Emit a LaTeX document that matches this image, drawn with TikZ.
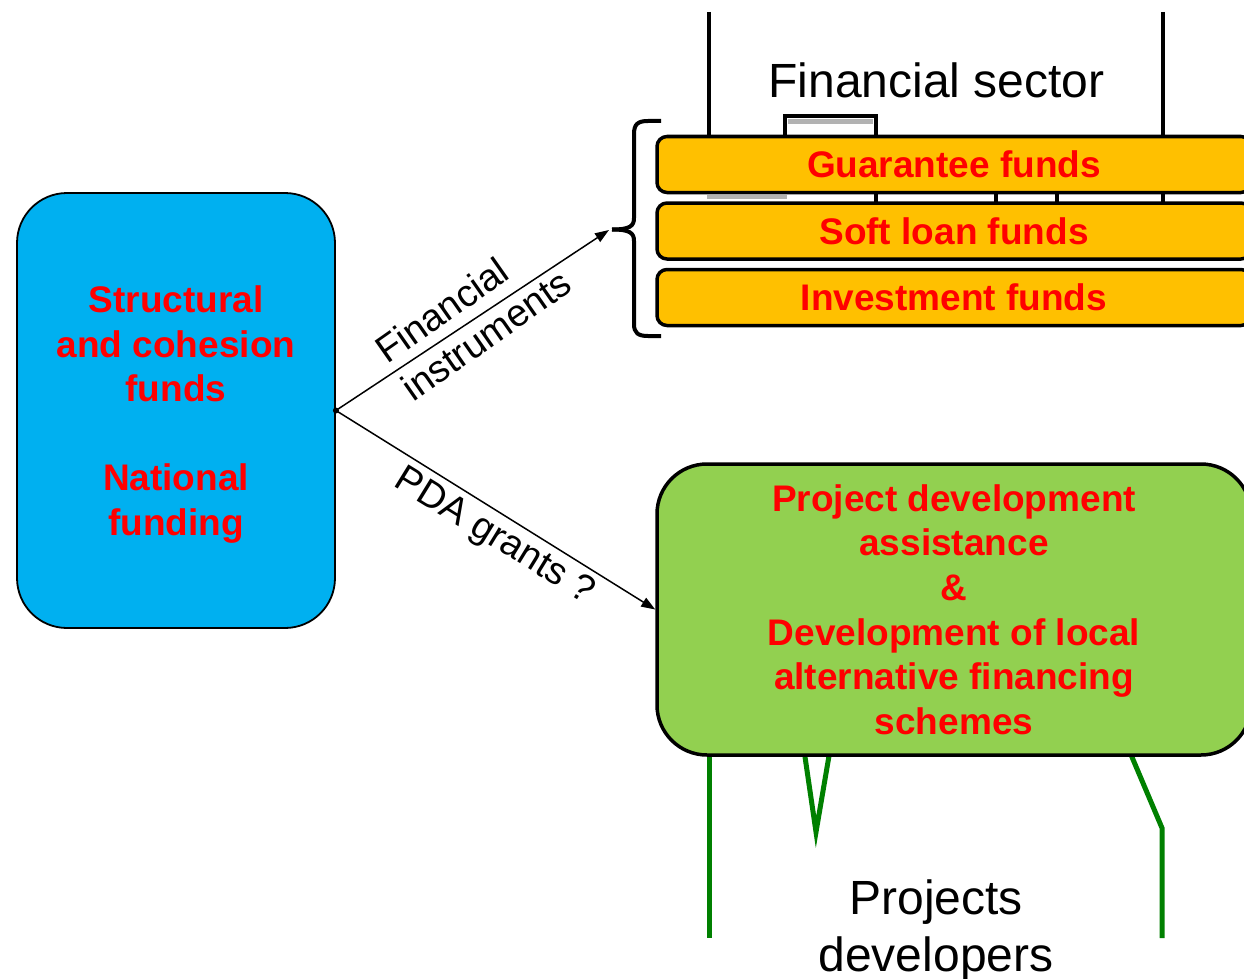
\documentclass[tikz,border=0pt]{standalone}
\usepackage{fontspec}
\setmainfont{Liberation Sans}
\usetikzlibrary{arrows.meta}
\definecolor{blueF}{HTML}{00B0F0}
\definecolor{orangeF}{HTML}{FFC000}
\definecolor{greenF}{HTML}{92D050}
\definecolor{redT}{HTML}{FF0000}
\definecolor{darkG}{HTML}{008000}
\begin{document}
\begin{tikzpicture}[x=1pt,y=-1pt,
  redtxt/.style={text=redT, font=\fontsize{37}{44.5}\selectfont\bfseries, align=center},
  srcbox/.style={draw, line width=1.8pt, fill=blueF, rounded corners=50pt, minimum width=318pt, minimum height=435pt, inner sep=0pt},
  fundbox/.style={redtxt, draw, line width=3.5pt, fill=orangeF, rounded corners=10pt, minimum width=594pt, minimum height=56pt, inner sep=0pt},
  pdabox/.style={redtxt, font=\fontsize{37}{44.6}\selectfont\bfseries, draw, line width=3.5pt, fill=greenF, rounded corners=50pt, minimum width=594pt, minimum height=291pt, inner sep=0pt},
  lbl/.style={font=\fontsize{38}{46}\selectfont, inner sep=0pt},
  ttl/.style={font=\fontsize{48}{57}\selectfont, inner sep=0pt},
  glink/.style={draw=darkG, line width=5pt},
  bline/.style={line width=4pt},
  conn/.style={line width=1.5pt, -{Triangle[length=14pt,width=10pt]}}
]
\useasboundingbox (0,0) rectangle (1244,979);
\clip (0,0) rectangle (1244,979);

% financial sector background
\draw[bline] (709,12) -- (709,136);
\draw[bline] (1163,12) -- (1163,136);
\draw[line width=3.5pt] (785,137) -- (785,116) -- (876,116) -- (876,137);
\draw[gray!60, line width=5pt] (788,121.5) -- (873,121.5);
\foreach \xx in {876,996,1057,1163} \draw[line width=4.5pt] (\xx,191) -- (\xx,204);
\draw[gray!60, line width=4pt] (707,197) -- (787,197);

\node[ttl, anchor=base] (fs) at (936.5,98) {Financial sector};

% project developers links
\draw[glink] (709,750) -- (709,938);
\draw[glink] (804,750) -- (816,832) -- (830,750);
\draw[glink] (1129,750) -- (1162,828) -- (1162,938);
\node[ttl, align=center] (pdv) at (936,931) {Projects\\developers};

% boxes
\node[srcbox] (src) at (176,410.5) {};
\node[redtxt] (srct) at (176,414.5) {Structural\\and cohesion\\funds\\[44.5pt]National\\funding};
\node[fundbox] (g) at (954,164.5) {Guarantee funds};
\node[fundbox] (s) at (954,231) {Soft loan funds};
\node[fundbox] (i) at (954,297.5) {Investment funds};
\node[pdabox] (pda) at (954,609.5) {Project development\\assistance\\\&\\Development of local\\alternative financing\\schemes};

% brace
\coordinate (bt) at (609,230);
\draw[line width=4pt] (661,121) -- (648,121) .. controls (638,121) and (634,124) .. (634,134) -- (634,218) .. controls (634,226) and (630,229.5) .. (612,229.5);
\draw[line width=4pt] (612,229.5) .. controls (630,229.5) and (634,233) .. (634,241) -- (634,324) .. controls (634,333) and (638,336) .. (648,336) -- (661,336);

% connectors
\draw[conn] (src.east) -- (bt);
\draw[conn] (src.east) -- (pda.west);
\fill (src.east) circle (3pt);

\node[lbl, rotate=35, align=left] (fi) at (473,316) {Financial\\instruments};
\node[lbl, rotate=-31.6] (pg) at (494,537) {PDA grants ?};
\end{tikzpicture}
\end{document}
